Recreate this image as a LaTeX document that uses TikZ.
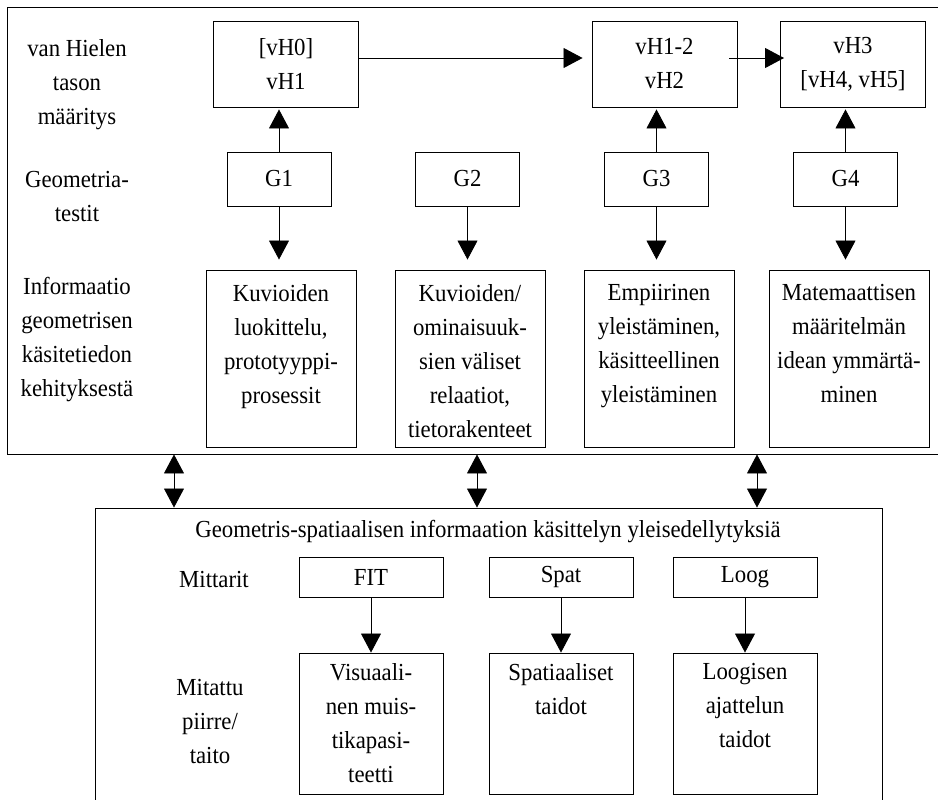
\documentclass[tikz,border=0pt]{standalone}
\usepackage{fontspec}
\setmainfont{Liberation Serif}[FakeStretch=0.93]
\usetikzlibrary{arrows.meta,positioning}

\newcommand{\cell}[4]{\parbox[c][#1pt][t]{#2pt}{\centering\vspace*{#3pt}#4}}

\begin{document}
\begin{tikzpicture}[x=1pt,y=-1pt,font=\fontsize{24.5}{34}\selectfont,
  frame/.style={draw,line width=.9pt,inner sep=0pt},
  lvl/.style={draw,line width=.9pt,inner sep=0pt,align=center,minimum width=145pt,minimum height=86pt},
  test/.style={draw,line width=.9pt,inner sep=0pt,minimum width=104pt,minimum height=54pt},
  meter/.style={draw,line width=.9pt,inner sep=0pt,minimum width=144pt,minimum height=40pt},
  info/.style={draw,line width=.9pt,inner sep=0pt},
  lab/.style={align=center,inner sep=0pt},
  tip/.style={-{Triangle[length=19pt,width=20pt]},line width=.8pt},
  both/.style={{Triangle[length=19pt,width=20pt]}-{Triangle[length=19pt,width=20pt]},line width=.8pt}]
\useasboundingbox (0,0) rectangle (938,800);

\node[frame,minimum width=935pt,minimum height=447pt] (upper) at (474.5,230.5) {};
\node[frame,minimum width=787pt,minimum height=304pt] (lower) at (488.5,660) {};

\node[lab] (lvllab) at (77,85) {van Hielen\\tason\\määritys};
\node[lab] (testlab) at (77,197) {Geometria-\\testit};
\node[lab] (infolab) at (77,340) {Informaatio\\geometrisen\\käsitetiedon\\kehityksestä};

\node[lvl] (vH01) at (286,64) {[vH0]\\vH1};
\node[lvl] (vH12) at (664.5,64) {vH1-2\\vH2};
\node[lvl] (vH3) at (853,64) {vH3\\{[vH4, vH5]}};

\node[test] (G1) at (279,179) {G1};
\node[test] (G2) at (467.5,179) {G2};
\node[test] (G3) at (656.5,179) {G3};
\node[test] (G4) at (845.5,179) {G4};

\node[info] (K1) at (281,358.5) {\cell{177}{150}{14}{Kuvioiden\\luokittelu,\\prototyyppi-\\prosessit}};
\node[info] (K2) at (470,358.5) {\cell{177}{150}{14}{Kuvioiden/\\ominaisuuk-\\sien väliset\\relaatiot,\\tietorakenteet}};
\node[info] (E3) at (659,358.5) {\cell{177}{150}{14}{Empiirinen\\yleistäminen,\\käsitteellinen\\yleistäminen}};
\node[info] (M4) at (849,358.5) {\cell{177}{160}{14}{Matemaattisen\\määritelmän\\idean ymmärtä-\\minen}};

\draw[tip,shorten >=9pt] ([yshift=6pt]vH01.east) -- ([yshift=6pt]vH12.west);
\draw[tip,shorten <=-8pt,shorten >=-4pt] ([yshift=6pt]vH12.east) -- ([yshift=6pt]vH3.west);
\foreach \g/\v in {G1/vH01,G3/vH12,G4/vH3}
  \draw[tip,shorten >=2pt] (\g.north) -- (\g.north |- \v.south);
\foreach \g/\k in {G1/K1,G2/K2,G3/E3,G4/M4}
  \draw[tip,shorten >=10pt] (\g.south) -- (\g.south |- \k.north);

\foreach \x in {174,477,757}
  \draw[both] (\x,0 |- upper.south) -- (\x,0 |- lower.north);

\node (title) at (488,532) {Geometris-spatiaalisen informaation käsittelyn yleisedellytyksiä};
\node[lab] (meterlab) at (214,580) {Mittarit};
\node[lab] (traitlab) at (210,722) {Mitattu\\piirre/\\taito};

\node[meter] (FIT) at (371,577) {FIT};
\node[meter] (Spat) at (561,577) {Spat};
\node[meter] (Loog) at (745,577) {Loog};

\node[info] (vis) at (371,723.5) {\cell{141}{144}{10}{Visuaali-\\nen muis-\\tikapasi-\\teetti}};
\node[info] (spa) at (561,723.5) {\cell{141}{144}{10}{Spatiaaliset\\taidot}};
\node[info] (log) at (745,723.5) {\cell{141}{144}{10}{Loogisen\\ajattelun\\taidot}};

\foreach \m/\t in {FIT/vis,Spat/spa,Loog/log}
  \draw[tip] (\m.south) -- (\t.north);
\end{tikzpicture}
\end{document}
